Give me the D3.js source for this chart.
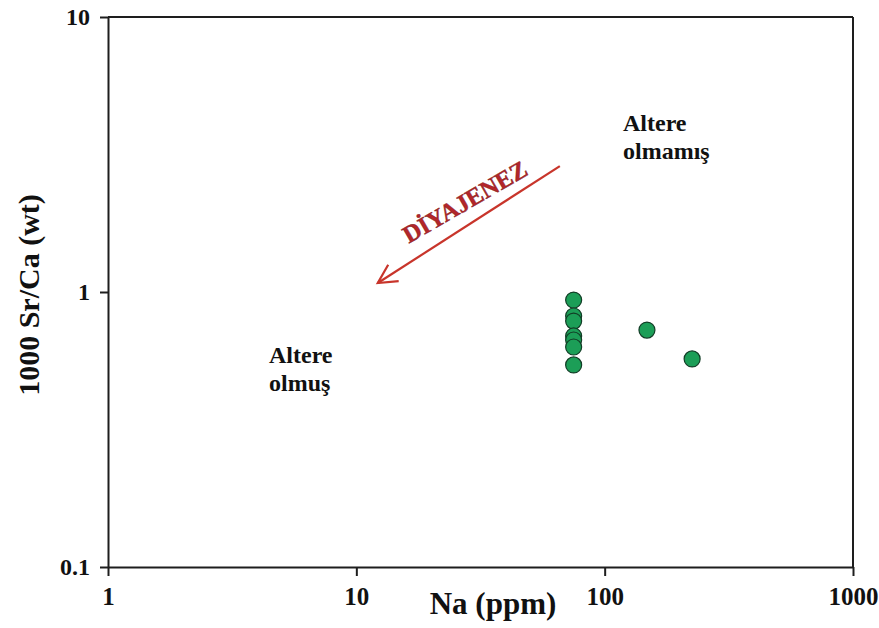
<!DOCTYPE html>
<html>
<head>
<meta charset="utf-8">
<script src="https://cdn.jsdelivr.net/npm/d3@7"></script>
<style>
  html, body { margin: 0; padding: 0; background: #fff; }
  svg { display: block; }
  text { font-family: "Liberation Serif", "Times New Roman", serif; font-weight: bold; }
</style>
</head>
<body>
<svg id="chart" width="879" height="628"></svg>
<script>
// Samples: Na content (ppm) against 1000·Sr/Ca (weight ratio)
const naPpm = [75, 75, 75, 75, 75, 75, 75, 148, 225];
const srCa  = [0.935, 0.818, 0.784, 0.692, 0.669, 0.631, 0.543, 0.727, 0.571];

const xTicks = [1, 10, 100, 1000];
const yTicks = [0.1, 1, 10];

// Diagenesis trend arrow endpoints (data units) and its label
const trendFrom = [66, 2.87];
const trendTo   = [12.2, 1.078];
const trendLabel = "DİYAJENEZ";

const W = 879, H = 628;
const margin = { top: 17, right: 26, bottom: 61, left: 108 };

const svg = d3.select("#chart");
svg.append("rect").attr("width", W).attr("height", H).attr("fill", "#fff");

const x = d3.scaleLog().domain([1, 1000]).range([margin.left, W - margin.right]);
const y = d3.scaleLog().domain([0.1, 10]).range([H - margin.bottom, margin.top]);

const axisColor = "#1e1e1e";

// frame (top and right edges)
svg.append("line")
  .attr("x1", x(1)).attr("x2", x(1000)).attr("y1", y(10)).attr("y2", y(10))
  .attr("stroke", axisColor).attr("stroke-width", 2);
svg.append("line")
  .attr("x1", x(1000)).attr("x2", x(1000)).attr("y1", y(10)).attr("y2", y(0.1))
  .attr("stroke", axisColor).attr("stroke-width", 2);

// bottom axis
const gx = svg.append("g")
  .attr("transform", `translate(0,${y(0.1)})`)
  .call(d3.axisBottom(x).tickValues(xTicks).tickFormat(d3.format("d")).tickSize(9).tickSizeOuter(0).tickPadding(11));
gx.select(".domain").attr("stroke", axisColor).attr("stroke-width", 2);
gx.selectAll(".tick line").attr("stroke", axisColor).attr("stroke-width", 2);
gx.selectAll(".tick text")
  .attr("fill", "#111").attr("font-size", 25)
  .style("font-family", '"Liberation Serif", serif').style("font-weight", "bold");

// left axis
const gy = svg.append("g")
  .attr("transform", `translate(${x(1)},0)`)
  .call(d3.axisLeft(y).tickValues(yTicks).tickFormat(d => d === 0.1 ? "0.1" : d3.format("d")(d)).tickSize(8).tickSizeOuter(0).tickPadding(10));
gy.select(".domain").attr("stroke", axisColor).attr("stroke-width", 2);
gy.selectAll(".tick line").attr("stroke", axisColor).attr("stroke-width", 2);
gy.selectAll(".tick text")
  .attr("fill", "#111").attr("font-size", 24)
  .style("font-family", '"Liberation Serif", serif').style("font-weight", "bold");

// axis titles
svg.append("text")
  .attr("x", 493).attr("y", 614)
  .attr("text-anchor", "middle")
  .attr("font-size", 31).attr("fill", "#111")
  .text("Na (ppm)");

svg.append("text")
  .attr("transform", "translate(39,295) rotate(-90)")
  .attr("text-anchor", "middle")
  .attr("font-size", 30).attr("fill", "#111")
  .text("1000 Sr/Ca (wt)");

// region labels
const region = (px, py, lines) => {
  const t = svg.append("text").attr("font-size", 24).attr("fill", "#111");
  lines.forEach((s, i) => t.append("tspan").attr("x", px).attr("y", py + i * 28).text(s));
};
region(623, 131, ["Altere", "olmamış"]);
region(269, 363, ["Altere", "olmuş"]);

// diagenesis trend arrow
const red = "#c8352b";
const x0 = x(trendFrom[0]), y0 = y(trendFrom[1]);
const x1 = x(trendTo[0]),   y1 = y(trendTo[1]);
svg.append("line")
  .attr("x1", x0).attr("y1", y0).attr("x2", x1).attr("y2", y1)
  .attr("stroke", red).attr("stroke-width", 2.2);
const ang = Math.atan2(y0 - y1, x0 - x1);
const barb = 21, spread = 0.48;
svg.append("path")
  .attr("d", `M${x1 + barb * Math.cos(ang - spread)},${y1 + barb * Math.sin(ang - spread)}` +
             `L${x1},${y1}` +
             `L${x1 + barb * Math.cos(ang + spread)},${y1 + barb * Math.sin(ang + spread)}`)
  .attr("fill", "none").attr("stroke", red).attr("stroke-width", 2.2)
  .attr("stroke-linejoin", "miter");

svg.append("text")
  .attr("transform", "translate(469,209) rotate(-30)")
  .attr("text-anchor", "middle")
  .attr("font-size", 24.5)
  .attr("fill", "#b3262a")
  .attr("stroke", "#7a1a1a").attr("stroke-width", 0.4)
  .text(trendLabel);

// sample points
svg.append("g").selectAll("circle")
  .data(naPpm.map((n, i) => ({ n, r: srCa[i] })))
  .join("circle")
  .attr("cx", d => x(d.n))
  .attr("cy", d => y(d.r))
  .attr("r", 8)
  .attr("fill", "#1c9e57")
  .attr("stroke", "#123d26")
  .attr("stroke-width", 1.2);
</script>
</body>
</html>
